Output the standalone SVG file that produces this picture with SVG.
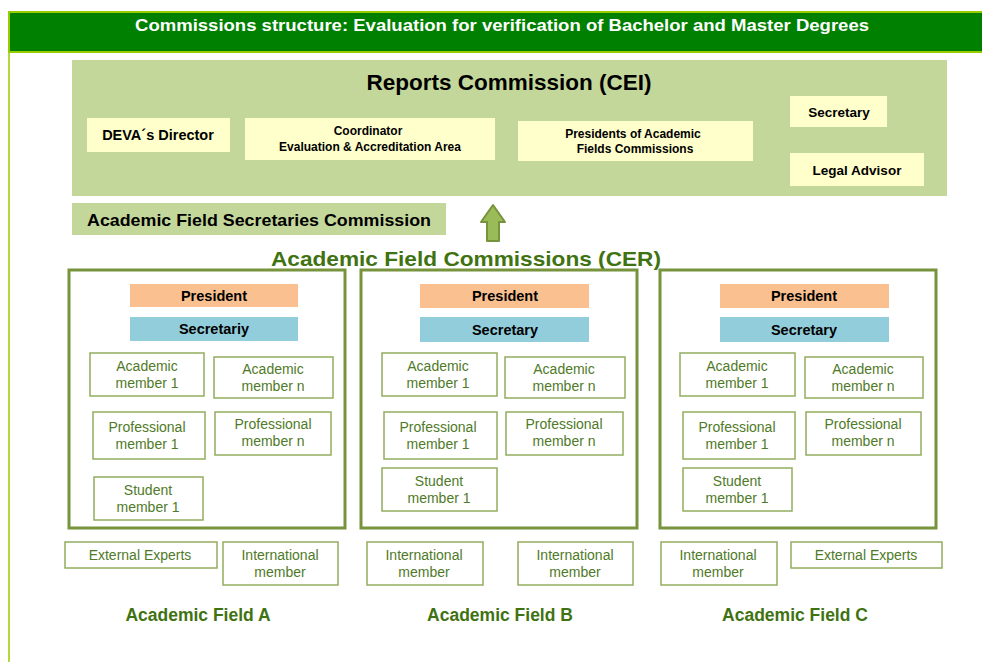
<svg xmlns="http://www.w3.org/2000/svg" width="982" height="662" viewBox="0 0 982 662">
<style>
text{font-family:"Liberation Sans",Arial,sans-serif;text-anchor:middle}
.b{font-weight:bold}
.yel{fill:#ffffcc}
.mem{fill:#ffffff;stroke:#93ad5f;stroke-width:1.5}
.mt{font-size:14px;fill:#4f7a28}
.frame{fill:#ffffff;stroke:#77933c;stroke-width:3}
.pres{fill:#fac090}
.sec{fill:#92cddc}
.rt{font-size:12px;font-weight:bold;fill:#000}
.rl{font-size:14.5px;font-weight:bold;fill:#000}
.ht{font-size:14.5px;font-weight:bold;fill:#000}
.fl{font-size:17.5px;font-weight:bold;fill:#3f7312}
</style>
<rect width="982" height="662" fill="#ffffff"/>
<g id="header">
<rect x="9" y="12" width="980" height="40" fill="#008000" stroke="#99cc00" stroke-width="2"/>
<line x1="9" y1="52" x2="9" y2="662" stroke="#99cc00" stroke-width="1.5"/>
<text x="502" y="31" class="b" font-size="17" fill="#ffffff" textLength="734" lengthAdjust="spacingAndGlyphs">Commissions structure: Evaluation for verification of Bachelor and Master Degrees</text>
</g>
<g id="cei">
<rect x="72" y="60" width="875" height="136" fill="#c4d79b"/>
<text x="509" y="90" class="b" font-size="22.5" fill="#000">Reports Commission (CEI)</text>
</g>
<g id="deva"><rect class="yel" x="87" y="118" width="143" height="34"/><text x="158" y="140" class="rl" style="font-size:14.5px">DEVA´s Director</text></g>
<g id="coord"><rect class="yel" x="245" y="118" width="250" height="42"/><text x="368" y="135" class="rt">Coordinator</text><text x="370" y="151" class="rt">Evaluation &amp; Accreditation  Area</text></g>
<g id="presidents"><rect class="yel" x="518" y="121" width="235" height="40"/><text x="633" y="138" class="rt">Presidents of Academic</text><text x="635" y="153" class="rt">Fields Commissions</text></g>
<g id="secretary"><rect class="yel" x="790" y="96" width="97" height="31"/><text x="839" y="117" class="rl" style="font-size:13.5px">Secretary</text></g>
<g id="legal"><rect class="yel" x="790" y="153" width="134" height="33"/><text x="857" y="175" class="rl" style="font-size:13.5px">Legal Advisor</text></g>
<g id="afsc"><rect x="72" y="203" width="374" height="32" fill="#c4d79b"/><text x="259" y="226" class="b" font-size="17" fill="#000" textLength="344" lengthAdjust="spacingAndGlyphs">Academic Field Secretaries Commission</text></g>
<g id="connectors">
<path d="M487,241 L499,241 L499,222 L505,222 L493,205 L481,222 L487,222 Z" fill="#9bbb59" stroke="#77933c" stroke-width="2" stroke-linejoin="round"/>
</g>
<g id="cer-title"><text x="466" y="266" class="b" font-size="21" fill="#3f7312" textLength="390" lengthAdjust="spacingAndGlyphs">Academic Field Commissions (CER)</text></g>

<g id="fieldA">
<rect class="frame" x="69" y="270" width="276" height="258"/>
<rect class="pres" x="130" y="284" width="168" height="23"/><text x="214" y="301" class="ht">President</text>
<rect class="sec" x="130" y="317" width="168" height="24"/><text x="214" y="334" class="ht">Secretariy</text>
<rect class="mem" x="90" y="353" width="114" height="43"/><text x="147" y="371" class="mt">Academic</text><text x="147" y="388" class="mt">member 1</text>
<rect class="mem" x="214" y="357" width="119" height="41"/><text x="273" y="374" class="mt">Academic</text><text x="273" y="391" class="mt">member  n</text>
<rect class="mem" x="93" y="412" width="112" height="47"/><text x="147" y="432" class="mt">Professional</text><text x="147" y="449" class="mt">member 1</text>
<rect class="mem" x="215" y="412" width="116" height="43"/><text x="273" y="429" class="mt">Professional</text><text x="273" y="446" class="mt">member n</text>
<rect class="mem" x="94" y="477" width="109" height="43"/><text x="148" y="495" class="mt">Student</text><text x="148" y="512" class="mt">member 1</text>
</g>
<g id="fieldB">
<rect class="frame" x="361" y="270" width="276" height="258"/>
<rect class="pres" x="420" y="284" width="169" height="24"/><text x="505" y="301" class="ht">President</text>
<rect class="sec" x="420" y="317" width="169" height="25"/><text x="505" y="335" class="ht">Secretary</text>
<rect class="mem" x="382" y="353" width="115" height="43"/><text x="438" y="371" class="mt">Academic</text><text x="438" y="388" class="mt">member 1</text>
<rect class="mem" x="505" y="357" width="120" height="41"/><text x="564" y="374" class="mt">Academic</text><text x="564" y="391" class="mt">member  n</text>
<rect class="mem" x="384" y="412" width="113" height="47"/><text x="438" y="432" class="mt">Professional</text><text x="438" y="449" class="mt">member 1</text>
<rect class="mem" x="506" y="412" width="117" height="43"/><text x="564" y="429" class="mt">Professional</text><text x="564" y="446" class="mt">member n</text>
<rect class="mem" x="382" y="468" width="115" height="43"/><text x="439" y="486" class="mt">Student</text><text x="439" y="503" class="mt">member 1</text>
</g>
<g id="fieldC">
<rect class="frame" x="660" y="270" width="276" height="258"/>
<rect class="pres" x="720" y="284" width="169" height="24"/><text x="804" y="301" class="ht">President</text>
<rect class="sec" x="720" y="317" width="169" height="25"/><text x="804" y="335" class="ht">Secretary</text>
<rect class="mem" x="680" y="353" width="115" height="43"/><text x="737" y="371" class="mt">Academic</text><text x="737" y="388" class="mt">member 1</text>
<rect class="mem" x="805" y="357" width="118" height="41"/><text x="863" y="374" class="mt">Academic</text><text x="863" y="391" class="mt">member  n</text>
<rect class="mem" x="683" y="412" width="112" height="47"/><text x="737" y="432" class="mt">Professional</text><text x="737" y="449" class="mt">member 1</text>
<rect class="mem" x="806" y="412" width="115" height="43"/><text x="863" y="429" class="mt">Professional</text><text x="863" y="446" class="mt">member n</text>
<rect class="mem" x="683" y="468" width="109" height="43"/><text x="737" y="486" class="mt">Student</text><text x="737" y="503" class="mt">member 1</text>
</g>
<g id="extA"><rect class="mem" x="65" y="542" width="152" height="26"/><text x="140" y="560" class="mt">External Experts</text></g>
<g id="intA"><rect class="mem" x="223" y="542" width="115" height="43"/><text x="280" y="560" class="mt">International</text><text x="280" y="577" class="mt">member</text></g>
<g id="intB1"><rect class="mem" x="367" y="542" width="116" height="43"/><text x="424" y="560" class="mt">International</text><text x="424" y="577" class="mt">member</text></g>
<g id="intB2"><rect class="mem" x="518" y="542" width="115" height="43"/><text x="575" y="560" class="mt">International</text><text x="575" y="577" class="mt">member</text></g>
<g id="intC"><rect class="mem" x="661" y="542" width="116" height="43"/><text x="718" y="560" class="mt">International</text><text x="718" y="577" class="mt">member</text></g>
<g id="extC"><rect class="mem" x="791" y="542" width="151" height="26"/><text x="866" y="560" class="mt">External Experts</text></g>
<g id="labels">
<text x="198" y="621" class="fl">Academic Field A</text>
<text x="500" y="621" class="fl">Academic Field B</text>
<text x="795" y="621" class="fl">Academic Field C</text>
</g>
</svg>
